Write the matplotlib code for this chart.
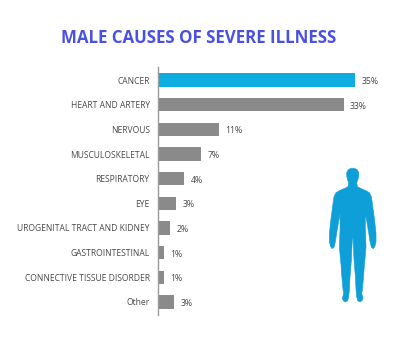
import numpy as np
import matplotlib
matplotlib.use("Agg")
import matplotlib.pyplot as plt
from matplotlib.patches import Polygon

plt.rcParams['font.family'] = ['Open Sans', 'DejaVu Sans']

categories = ["CANCER", "HEART AND ARTERY", "NERVOUS", "MUSCULOSKELETAL", "RESPIRATORY",
              "EYE", "UROGENITAL TRACT AND KIDNEY", "GASTROINTESTINAL",
              "CONNECTIVE TISSUE DISORDER", "Other"]
bar_lengths = [35.0, 32.9, 10.8, 7.6, 4.6, 3.2, 2.1, 1.1, 1.0, 2.9]
value_labels = ["35%", "33%", "11%", "7%", "4%", "3%", "2%", "1%", "1%", "3%"]
# right half of the body outline, in pixels of the zoomed picture
body_x = [0, 8, 14, 18, 18, 16, 12, 14, 26, 40, 50, 56, 59, 65, 70, 70, 67, 62, 56, 52, 49, 44, 38, 38, 40, 37, 35, 33, 29, 27, 31, 28, 22, 15, 12, 10, 8, 4, 1]
body_y = [55, 56, 60, 68, 78, 88, 98, 110, 116, 122, 128, 140, 160, 205, 250, 275, 288, 296, 292, 275, 255, 225, 190, 240, 290, 325, 345, 375, 420, 430, 445, 452, 456, 452, 440, 420, 380, 330, 265]

W, H = 397, 361
fig = plt.figure(figsize=(W / 100, H / 100), dpi=100)
ax = fig.add_axes([158.0 / W, 1 - 315 / H, (397 - 158.0) / W, 248 / H])
y = np.arange(len(categories))
colors = ['#0dade2'] + ['#8a8a8a'] * 9
ax.barh(y, bar_lengths, height=0.54, color=colors)
ax.set_xlim(0, 239.0 / 5.64)
ax.set_ylim(9.53, -0.53)
ax.set_yticks(y)
ax.set_yticklabels(categories, fontsize=6.15, color='#4a4a4a')
ax.tick_params(axis='y', length=0, pad=6)
ax.set_xticks([])
for i, (v, lab) in enumerate(zip(bar_lengths, value_labels)):
    ax.text(v + 1.15, i + 0.06, lab, fontsize=6.3, color='#4a4a4a', va='center', ha='left')
for s in ['top', 'right', 'bottom']:
    ax.spines[s].set_visible(False)
ax.spines['left'].set_color('#9a9a9a')
ax.spines['left'].set_linewidth(1.0)

fig.text(198.5 / W, 1 - 38.2 / H, "MALE CAUSES OF SEVERE ILLNESS", fontsize=12.2, fontweight='bold',
         color='#4a50e2', ha='center', va='center')

# silhouette, mirrored around its centre line
cx = 352.7
bx = np.array(body_x) / 3
by = 150 + np.array(body_y) / 3
px = np.concatenate([cx + bx, cx - bx[::-1]])
py = np.concatenate([by, by[::-1]])
fig.add_artist(Polygon(np.column_stack([px / W, 1 - py / H]), closed=True, transform=fig.transFigure,
                       facecolor='#0e9fd8', edgecolor='#0e9fd8', linewidth=0.4, joinstyle='round'))

fig.savefig("out.png", dpi=100)
plt.close()
